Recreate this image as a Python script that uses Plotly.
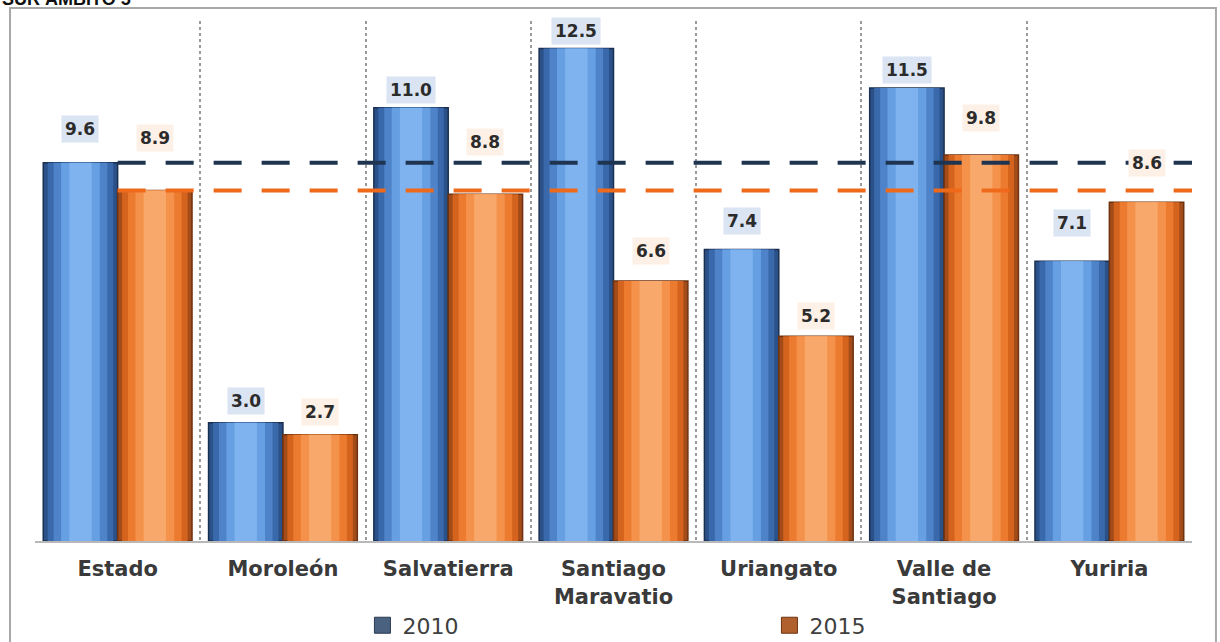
import plotly.graph_objects as go

categories = ["Estado", "Moroleón", "Salvatierra", "Santiago<br>Maravatio",
              "Uriangato", "Valle de<br>Santiago", "Yuriria"]
series_names = ["2010", "2015"]
v2010 = [9.6, 3.0, 11.0, 12.5, 7.4, 11.5, 7.1]
v2015 = [8.9, 2.7, 8.8, 6.6, 5.2, 9.8, 8.6]

# label offsets above bar tops (px)
off2010 = [34, 22, 18, 18, 28, 18, 38]
off2015 = [52, 23, 52, 30, 20, 37, 39]

idx = list(range(len(categories)))
BW = 0.45
centers = [-0.225, 0.225]

blue_layers = [(1.0, "#2b5189"), (0.88, "#3a69ab"), (0.72, "#4e83ca"),
               (0.52, "#66a0e3"), (0.30, "#7fb3ef")]
orange_layers = [(1.0, "#a34c1a"), (0.88, "#d4631d"), (0.72, "#ec7b30"),
                 (0.52, "#f4924c"), (0.30, "#f8a86a")]
legend_cols = ["#4a6180", "#b0602c"]
legend_edge = ["#2a3a50", "#6e3210"]

fig = go.Figure()
for s, (vals, layers, c) in enumerate([(v2010, blue_layers, centers[0]),
                                        (v2015, orange_layers, centers[1])]):
    for k, (frac, col) in enumerate(layers):
        w = BW * frac
        fig.add_trace(go.Bar(
            x=idx, y=vals, width=[w] * len(idx), offset=[c - w / 2] * len(idx),
            marker=dict(color=col,
                        line=dict(color="#1a2f50" if s == 0 else "#6e3210",
                                  width=1.5 if k == 0 else 0)),
            name=series_names[s], showlegend=False, hoverinfo="skip"))
    # legend entry
    fig.add_trace(go.Scatter(x=[None], y=[None], mode="markers", name=series_names[s],
                             marker=dict(symbol="square", size=16, color=legend_cols[s],
                                         line=dict(color=legend_edge[s], width=1)),
                             showlegend=True))

# reference (Estado) dashed lines
fig.add_trace(go.Scatter(x=[0, 6.5], y=[v2010[0], v2010[0]], mode="lines",
                         line=dict(color="#1e3450", width=4, dash="28px,20px"),
                         showlegend=False, hoverinfo="skip", cliponaxis=False))
fig.add_trace(go.Scatter(x=[0, 6.62], y=[v2015[0], v2015[0]], mode="lines",
                         line=dict(color="#ee6a1a", width=4, dash="28px,20px"),
                         showlegend=False, hoverinfo="skip", cliponaxis=False))

LBL_FONT = dict(family="DejaVu Sans", size=17, color="#2b2b2b")
annotations = []
for i in idx:
    annotations.append(dict(x=i + centers[0], y=v2010[i], yshift=off2010[i],
                            text="<b>%.1f</b>" % v2010[i], showarrow=False,
                            font=LBL_FONT, bgcolor="#dae4f3", borderpad=3))
    annotations.append(dict(x=i + centers[1], y=v2015[i], yshift=off2015[i],
                            text="<b>%.1f</b>" % v2015[i], showarrow=False,
                            font=LBL_FONT, bgcolor="#fdf0e6", borderpad=3))

annotations.append(dict(xref="paper", yref="paper", x=-0.03, y=1.02,
                        xanchor="left", yanchor="bottom",
                        text="<b>SUR ÁMBITO 5</b>", showarrow=False,
                        font=dict(family="Liberation Sans", size=18, color="#111")))

fig.update_layout(
    width=1220, height=642,
    margin=dict(l=35, r=28, t=21, b=101, autoexpand=False),
    paper_bgcolor="white", plot_bgcolor="white",
    barmode="overlay",
    showlegend=True,
    legend=dict(orientation="h", x=0.283, y=-0.122, xanchor="left", yanchor="top",
                bgcolor="rgba(0,0,0,0)",
                font=dict(family="DejaVu Sans", size=22, color="#404040"),
                entrywidth=362, entrywidthmode="pixels", traceorder="normal"),
    xaxis=dict(range=[-0.5, 6.5], tickmode="array", tickvals=idx,
               ticktext=["<b>%s</b>" % c for c in categories],
               tickfont=dict(family="DejaVu Sans", size=21, color="#3a3a3a"),
               ticks="", ticklabelstandoff=8,
               showgrid=False, zeroline=False,
               showline=True, linecolor="#b8b8b8", linewidth=2,
               minor=dict(tick0=-0.5, dtick=1, showgrid=True, gridcolor="#9a9a9a",
                          griddash="dot", gridwidth=1.5, ticks="")),
    yaxis=dict(range=[0, 13.2], visible=False, showgrid=False),
    annotations=annotations,
    shapes=[dict(type="rect", xref="paper", yref="paper",
                 x0=-0.0216, x1=1.0207, y0=-0.2, y1=1.025,
                 line=dict(color="#a8a8a8", width=2), layer="below")],
)

fig.write_html("out.html", config={"displayModeBar": False})

# remove the default page margin so the figure fills the window exactly
with open("out.html", "r", encoding="utf-8") as f:
    html = f.read()
html = html.replace("<body>", '<body style="margin:0;padding:0;overflow:hidden">', 1)
with open("out.html", "w", encoding="utf-8") as f:
    f.write(html)
